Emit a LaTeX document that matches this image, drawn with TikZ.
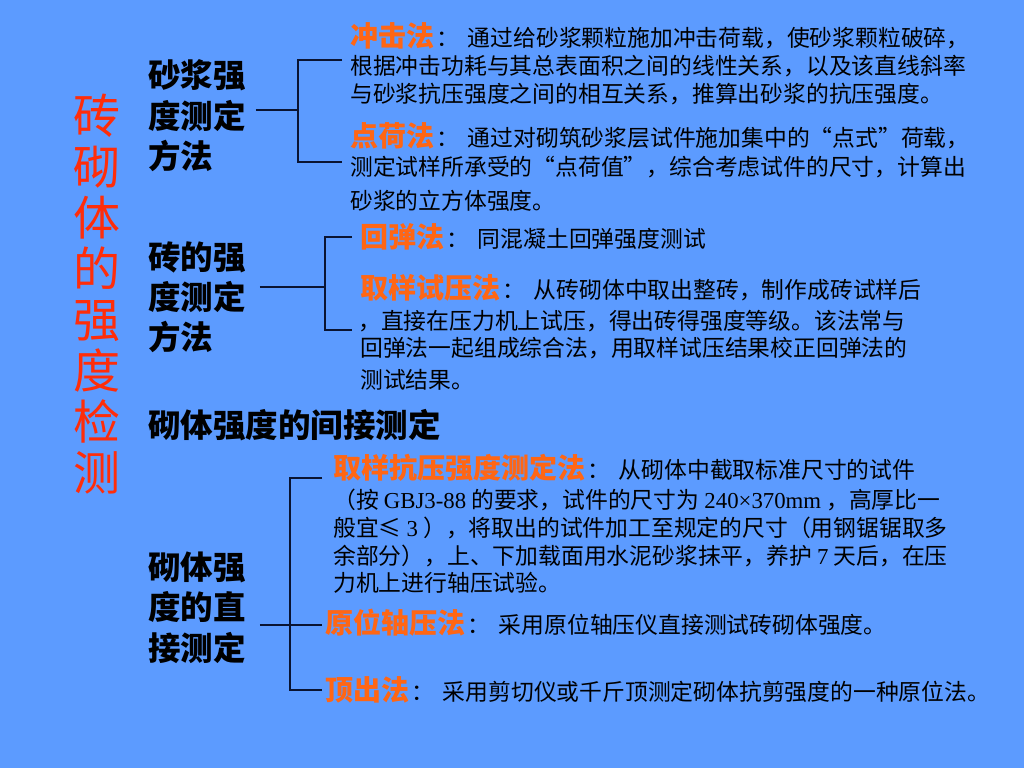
\documentclass[tikz,border=0pt]{standalone}
\usepackage{fontspec}
\setmainfont{Liberation Serif}
\newfontfamily\cjk{Noto Sans CJK SC}
\newfontfamily\lat{Liberation Serif}
\definecolor{bgblue}{RGB}{92,155,255}
\definecolor{titlered}{RGB}{255,45,10}
\definecolor{labor}{RGB}{255,102,20}
\definecolor{linec}{RGB}{10,20,50}
\newcommand\lab[1]{{\color{labor}\bfseries\fontsize{28}{28}\selectfont #1}\hspace{2pt}：\hspace{9pt}}
\tikzset{
  ttl/.style={text=titlered, font=\cjk\fontsize{47}{47}\selectfont, inner sep=0pt, anchor=center, text height=41.4pt, text depth=5.6pt},
  head/.style={font=\cjk\bfseries\fontsize{32.5}{32.5}\selectfont, anchor=west, inner sep=0pt, text height=28.6pt, text depth=3.9pt},
  txt/.style={font=\cjk\fontsize{22.8}{22.8}\selectfont, anchor=west, inner sep=0pt, text height=20.1pt, text depth=2.7pt},
  conn/.style={draw=linec, line width=1.3pt}
}
\begin{document}
\begin{tikzpicture}[x=1pt,y=-1pt]
\fill[bgblue] (0,0) rectangle (1024,768);
\useasboundingbox (0,0) rectangle (1024,768);
% vertical title
\foreach \c [count=\i from 0] in {砖,砌,体,的,强,度,检,测}
  \node[ttl] (t\i) at (97,{116+50.9*\i}) {\c};
% headings
\node[head] (h1a) at (148,75) {砂浆强};
\node[head] (h1b) at (148,116) {度测定};
\node[head] (h1c) at (148,156) {方法};
\node[head] (h2a) at (148,257) {砖的强};
\node[head] (h2b) at (148,297) {度测定};
\node[head] (h2c) at (148,337) {方法};
\node[head] (h3) at (148,425) {砌体强度的间接测定};
\node[head] (h4a) at (148,567) {砌体强};
\node[head] (h4b) at (148,607) {度的直};
\node[head] (h4c) at (148,648) {接测定};
% section 1
\node[txt] (a1) at (350,38) {\lab{冲击法}通过给砂浆颗粒施加冲击荷载，使砂浆颗粒破碎，};
\node[txt] (a2) at (350,66) {根据冲击功耗与其总表面积之间的线性关系，以及该直线斜率};
\node[txt] (a3) at (350,94) {与砂浆抗压强度之间的相互关系，推算出砂浆的抗压强度。};
\node[txt] (b1) at (350,138) {\lab{点荷法}通过对砌筑砂浆层试件施加集中的“点式”荷载，};
\node[txt] (b2) at (350,167) {测定试样所承受的“点荷值”，综合考虑试件的尺寸，计算出};
\node[txt] (b3) at (350,201) {砂浆的立方体强度。};
% section 2
\node[txt] (c1) at (360,239) {\lab{回弹法}同混凝土回弹强度测试};
\node[txt] (d1) at (360,290) {\lab{取样试压法}从砖砌体中取出整砖，制作成砖试样后};
\node[txt] (d2) at (358,321) {，直接在压力机上试压，得出砖得强度等级。该法常与};
\node[txt] (d3) at (360,348) {回弹法一起组成综合法，用取样试压结果校正回弹法的};
\node[txt] (d4) at (360,380) {测试结果。};
% section 3
\node[txt] (e1) at (333,470) {\lab{取样抗压强度测定法}从砌体中截取标准尺寸的试件};
\node[txt] (e2) at (333,500) {（按 {\lat GBJ3-88} 的要求，试件的尺寸为 {\lat 240×370mm} ，高厚比一};
\node[txt] (e3) at (333,528) {般宜≤ {\lat 3} ），将取出的试件加工至规定的尺寸（用钢锯锯取多};
\node[txt] (e4) at (333,556) {余部分），上、下加载面用水泥砂浆抹平，养护 {\lat 7} 天后，在压};
\node[txt] (e5) at (333,583) {力机上进行轴压试验。};
\node[txt] (f1) at (325,625) {\lab{原位轴压法}采用原位轴压仪直接测试砖砌体强度。};
\node[txt] (g1) at (325,692) {\lab{顶出法}采用剪切仪或千斤顶测定砌体抗剪强度的一种原位法。};
% brackets
\coordinate (j1) at (298,110);
\draw[conn] ([xshift=10pt]h1b.east |- j1) -- (j1);
\draw[conn] (342,60) -| (j1) |- (342,162);
\coordinate (j2) at (325,287);
\draw[conn] ([xshift=14pt]h2b.east |- j2) -- (j2);
\draw[conn] (352,237) -| (j2) |- (352,330);
\coordinate (j3) at (290,625);
\draw[conn] ([xshift=14pt]h4b.east |- j3) -- ([xshift=-3pt]f1.west |- j3);
\draw[conn] (322,478) -| (j3) |- (322,690);
\end{tikzpicture}
\end{document}
